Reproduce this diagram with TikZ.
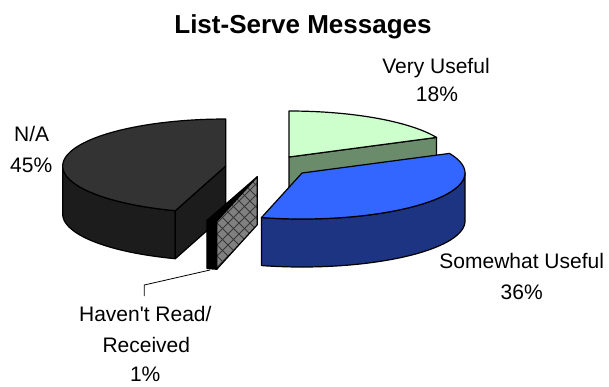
\documentclass[tikz,border=0pt]{standalone}
\usepackage{fontspec}
\setmainfont{Liberation Sans}
\usetikzlibrary{calc}
\definecolor{natop}{RGB}{51,51,51}
\definecolor{naside}{RGB}{28,28,28}
\definecolor{vutop}{RGB}{204,255,204}
\definecolor{vuside}{RGB}{107,140,107}
\definecolor{sutop}{RGB}{51,102,255}
\definecolor{suside}{RGB}{28,52,130}
\definecolor{hrface}{RGB}{128,128,128}
\definecolor{hrline}{RGB}{55,55,55}
\begin{document}
\begin{tikzpicture}[x=0.75pt,y=-0.75pt,
  face/.style={draw=black,line width=0.9pt,line join=round},
  lbl/.style={font=\fontsize{15.75}{18}\selectfont,anchor=base,inner sep=0pt},
  ttl/.style={font=\bfseries\fontsize{19.5}{22}\selectfont,anchor=base,inner sep=0pt},
  hatchline/.style={draw=hrline,line width=0.75pt},
  leader/.style={draw=black,line width=0.6pt}]
\useasboundingbox (0,0) rectangle (609,386);

% ---------- N/A slice ----------
\coordinate (nac) at (225.7,166);
\coordinate (nav) at ({225.7+163*sin(198)},{166-47*cos(198)});
\filldraw[face,fill=naside]
  plot[domain=198:270,samples=40] ({225.7+163*sin(\x)},{166-47*cos(\x)})
  -- plot[domain=270:198,samples=40] ({225.7+163*sin(\x)},{214-47*cos(\x)}) -- cycle;
\filldraw[face,fill=naside] (nac) -- (nav) -- ++(0,48) -- ($(nac)+(0,48)$) -- cycle;
\filldraw[face,fill=natop] (nac)
  -- plot[domain=198:360,samples=70] ({225.7+163*sin(\x)},{166-47*cos(\x)}) -- cycle;

% ---------- Haven't Read slice ----------
\coordinate (hrc) at (257.3,176.7);
\coordinate (hrv) at ({257.3+163*sin(194.4)},{176.7-46*cos(194.4)});
\filldraw[face,fill=black]
  plot[domain=194.4:198,samples=6] ({257.3+163*sin(\x)},{176.7-46*cos(\x)})
  -- plot[domain=198:194.4,samples=6] ({257.3+163*sin(\x)},{224.7-46*cos(\x)}) -- cycle;
\filldraw[face,fill=black] (hrc)
  -- plot[domain=194.4:198,samples=6] ({257.3+163*sin(\x)},{176.7-46*cos(\x)}) -- cycle;
\fill[hrface] (hrc) -- (hrv) -- ++(0,48) -- ($(hrc)+(0,48)$) -- cycle;
\begin{scope}
  \clip (hrc) -- (hrv) -- ++(0,48) -- ($(hrc)+(0,48)$) -- cycle;
  \foreach \k in {0,...,25} {
    \draw[hatchline] ({100+11*\k},150) -- ++(140,140);
    \draw[hatchline] ({180+11*\k},150) -- ++(-140,140);
  }
\end{scope}
\draw[face] (hrc) -- (hrv) -- ++(0,48) -- ($(hrc)+(0,48)$) -- cycle;

% ---------- Very Useful slice ----------
\coordinate (vuc) at (289,157);
\coordinate (vuv) at ({289+163*sin(64.8)},{157-46*cos(64.8)});
\filldraw[face,fill=vuside] (vuc) -- (vuv) -- ++(0,48) -- ($(vuc)+(0,48)$) -- cycle;
\filldraw[face,fill=vutop] (vuc)
  -- plot[domain=0:64.8,samples=40] ({289+163*sin(\x)},{157-46*cos(\x)}) -- cycle;

% ---------- Somewhat Useful slice ----------
\coordinate (suc) at (302,173);
\filldraw[face,fill=suside]
  plot[domain=90:194.4,samples=60] ({302+163*sin(\x)},{173-46*cos(\x)})
  -- plot[domain=194.4:90,samples=60] ({302+163*sin(\x)},{221-46*cos(\x)}) -- cycle;
\filldraw[face,fill=sutop] (suc)
  -- plot[domain=64.8:194.4,samples=70] ({302+163*sin(\x)},{173-46*cos(\x)}) -- cycle;

% ---------- Labels ----------
\node[ttl] (title) at (303,33.3) {List-Serve Messages};
\node[lbl] (vu1) at (436,73.3) {Very Useful};
\node[lbl] (vu2) at (437,101.7) {18\%};
\node[lbl] (su1) at (521.7,268.3) {Somewhat Useful};
\node[lbl] (su2) at (521.7,299.3) {36\%};
\node[lbl] (na1) at (31.7,141.7) {N/A};
\node[lbl] (na2) at (31.2,172.7) {45\%};
\node[lbl] (hr1) at (145.3,321.7) {Haven\textquotesingle t Read/};
\node[lbl] (hr2) at (146.3,352.7) {Received};
\node[lbl] (hr3) at (145.2,381.7) {1\%};

% ---------- Leader ----------
\coordinate (hrtip) at (210,270);
\coordinate (hrbend) at (144.3,285);
\coordinate (hrend) at (144.3,296);
\draw[leader] (hrtip) -- (hrbend) -- (hrend);
\end{tikzpicture}
\end{document}
